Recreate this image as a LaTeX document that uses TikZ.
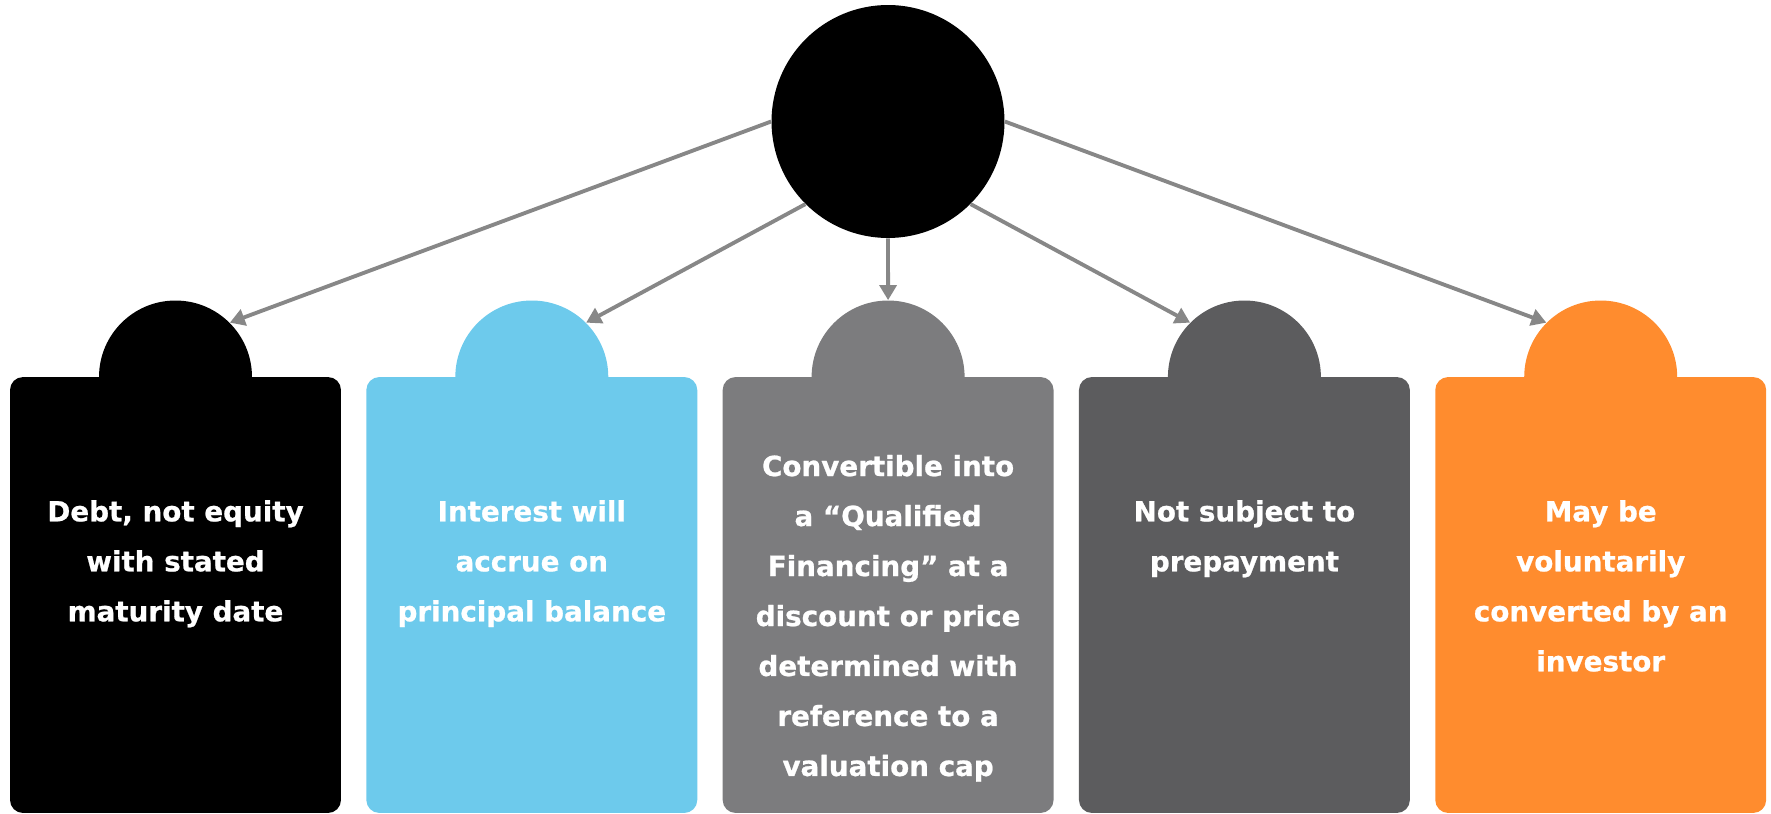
\documentclass[tikz,border=0pt]{standalone}
\usepackage{fontspec}
\setmainfont{DejaVu Sans}[BoldFeatures={FakeBold=0.8}]
\usetikzlibrary{arrows.meta}
\definecolor{skyblue}{HTML}{6DCAEC}
\definecolor{midgray}{HTML}{7C7C7E}
\definecolor{coalgray}{HTML}{5C5C5E}
\definecolor{tangerine}{HTML}{FF8C2E}
\definecolor{spokegray}{HTML}{878787}

\begin{document}
\begin{tikzpicture}[x=0.02cm, y=-0.02cm,
    hub/.style={circle, fill=black, minimum size=4.66cm, inner sep=0pt},
    dome/.style={circle, fill=#1, minimum size=3.06cm, inner sep=0pt},
    card/.style={rectangle, rounded corners=0.26cm, fill=#1, minimum width=6.62cm, minimum height=8.72cm, inner sep=0pt},
    cardtext/.style={anchor=north, inner sep=0pt, align=center, text=white, font=\fontsize{15.8}{28.45}\selectfont\bfseries},
    spoke/.style={draw=spokegray, line width=2.2pt, -{Triangle[length=8.5pt, width=9.5pt]}}]
    \useasboundingbox (0, 0) rectangle (1771, 814);

    \node[hub] (hub) at (888, 121.5) {};

    \node[dome=black] (dome1) at (175.5, 377) {};
    \node[dome=skyblue] (dome2) at (531.8, 377) {};
    \node[dome=midgray] (dome3) at (888.1, 377) {};
    \node[dome=coalgray] (dome4) at (1244.4, 377) {};
    \node[dome=tangerine] (dome5) at (1600.7, 377) {};

    \node[card=black] (card1) at (175.5, 595) {};
    \node[card=skyblue] (card2) at (531.8, 595) {};
    \node[card=midgray] (card3) at (888.1, 595) {};
    \node[card=coalgray] (card4) at (1244.4, 595) {};
    \node[card=tangerine] (card5) at (1600.7, 595) {};

    \node[cardtext] (text1) at (175.5, 486) {\strut Debt, not equity\\with stated\\maturity date};
    \node[cardtext] (text2) at (531.8, 486) {\strut Interest will\\accrue on\\principal balance};
    \node[cardtext] (text3) at (888.1, 440.7) {\strut Convertible into\\a “Qualified\\Financing” at a\\discount or price\\determined with\\reference to a\\valuation cap};
    \node[cardtext] (text4) at (1244.4, 486) {\strut Not subject to\\prepayment};
    \node[cardtext] (text5) at (1600.7, 486) {\strut May be\\voluntarily\\converted by an\\investor};

    \draw[spoke] (hub.west) -- (dome1.45);
    \draw[spoke] (hub.225) -- (dome2.45);
    \draw[spoke] (hub.south) -- (dome3.north);
    \draw[spoke] (hub.-45) -- (dome4.135);
    \draw[spoke] (hub.east) -- (dome5.135);
\end{tikzpicture}
\end{document}
